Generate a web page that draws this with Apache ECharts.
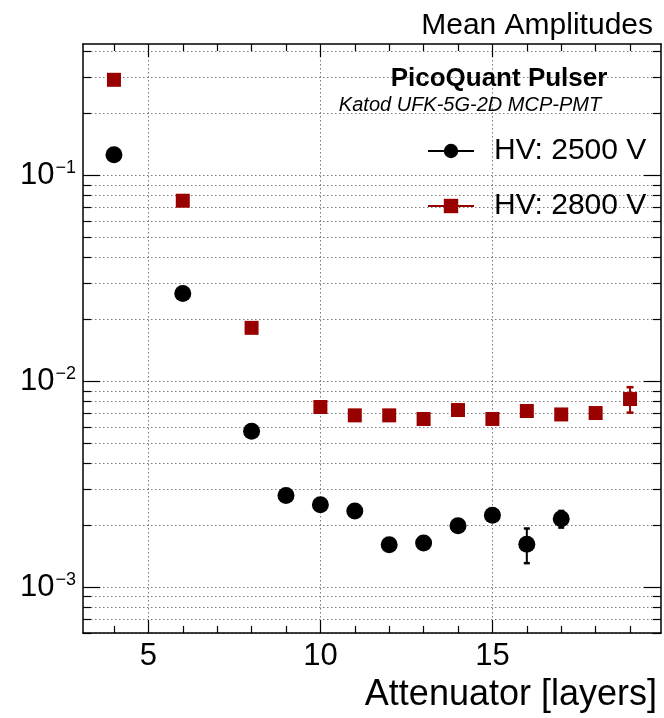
<!DOCTYPE html>
<html><head><meta charset="utf-8">
<script src="https://cdn.jsdelivr.net/npm/echarts@6/dist/echarts.min.js"></script>
<style>html,body{margin:0;padding:0;background:#fff}#c{width:664px;height:718px}</style>
</head><body><div id="c"></div>
<script>
// ---- data ----
const xHV2500 = [4, 6, 8, 9, 10, 11, 12, 13, 14, 15, 16, 17];
const yHV2500 = [0.126, 0.0267, 0.00572, 0.00279, 0.00252, 0.00235, 0.00161, 0.00164, 0.00199, 0.00224, 0.00162, 0.00215];
const eHV2500 = [0, 0, 0, 0, 0, 0, 0, 0, 0, 0, 0.00031, 0.0002];
const xHV2800 = [4, 6, 8, 10, 11, 12, 13, 14, 15, 16, 17, 18, 19];
const yHV2800 = [0.2915, 0.0754, 0.0182, 0.00751, 0.00684, 0.00684, 0.00657, 0.00726, 0.00657, 0.00718, 0.00691, 0.00702, 0.00821];
const eHV2800 = [0, 0, 0, 0, 0, 0, 0, 0, 0, 0, 0, 0, 0.00116];
const seriesNames = ['HV: 2500 V', 'HV: 2800 V'];
const xMajorTicks = [5, 10, 15];
const xMinorTicks = [4, 6, 7, 8, 9, 11, 12, 13, 14, 16, 17, 18, 19];
const yMajorTicks = [0.001, 0.01, 0.1];
const yMinorTicks = [0.0006, 0.0007, 0.0008, 0.0009,
  0.002, 0.003, 0.004, 0.005, 0.006, 0.007, 0.008, 0.009,
  0.02, 0.03, 0.04, 0.05, 0.06, 0.07, 0.08, 0.09,
  0.2, 0.3, 0.4];
const titleText = 'Mean Amplitudes';
const boxTitle = 'PicoQuant Pulser';
const boxSubtitle = 'Katod UFK-5G-2D MCP-PMT';
const xTitle = 'Attenuator [layers]';

// ---- styles ----
const FF = '"Liberation Sans", Arial, Helvetica, sans-serif';
const BLACK = '#000000';
const RED = '#990000';
const X_MIN = 3.1, X_MAX = 19.9, Y_MIN = 0.0006, Y_MAX = 0.435;
const gridLine = { show: true, lineStyle: { color: '#7a7a7a', width: 1, type: [1.5, 2.5] } };

function pts(xs, ys) { return xs.map((x, i) => [x, ys[i]]); }
function errs(xs, ys, es) { return xs.map((x, i) => [x, ys[i], es[i]]); }

function xAx(pos, major, withLine) {
  return {
    type: 'value', min: X_MIN, max: X_MAX, position: pos, gridIndex: 0,
    axisLine: { show: withLine, onZero: false, lineStyle: { color: BLACK, width: 1.5 } },
    axisTick: { show: true, inside: true, length: major ? 13 : 7,
      customValues: major ? xMajorTicks : xMinorTicks, lineStyle: { color: BLACK, width: 1.2 } },
    axisLabel: { show: false },
    splitLine: { show: false }
  };
}
function yAx(pos, major, withLine) {
  return {
    type: 'log', logBase: 10, min: Y_MIN, max: Y_MAX, position: pos, gridIndex: 0,
    axisLine: { show: withLine, onZero: false, lineStyle: { color: BLACK, width: 1.5 } },
    axisTick: { show: true, inside: true, length: major ? 17 : 8,
      customValues: major ? yMajorTicks : yMinorTicks, lineStyle: { color: BLACK, width: 1.2 } },
    axisLabel: { show: false },
    splitLine: { show: false }
  };
}

const xAxes = [xAx('bottom', true, true), xAx('bottom', false, false), xAx('top', true, true), xAx('top', false, false)];
xAxes[0].axisLabel = { show: true, customValues: xMajorTicks, fontSize: 31, color: BLACK, fontFamily: FF, margin: 8 };
xAxes[0].splitLine = gridLine;
xAxes[0].name = xTitle;
xAxes[0].nameLocation = 'end';
xAxes[0].nameGap = -4;
xAxes[0].nameTextStyle = { fontSize: 36, fontFamily: FF, color: BLACK, align: 'right', verticalAlign: 'top', padding: [44, 0, 0, 0] };

const yAxes = [yAx('left', true, true), yAx('left', false, false), yAx('right', true, true), yAx('right', false, false)];
yAxes[0].axisLabel = {
  show: true, customValues: yMajorTicks, margin: 7,
  formatter: v => '{a|10}{b|' + '\u2212' + Math.abs(Math.round(Math.log10(v))) + '}',
  rich: {
    a: { fontSize: 31, fontFamily: FF, color: BLACK },
    b: { fontSize: 18, fontFamily: FF, color: BLACK, padding: [0, 0, 14, 1] }
  }
};
yAxes[0].splitLine = gridLine;
yAxes[1].splitLine = gridLine;

function errRender(color, cap) {
  return function (params, api) {
    const x = api.value(0), y = api.value(1), e = api.value(2);
    if (!e) return null;
    const t = api.coord([x, y + e]);
    const b = api.coord([x, y - e]);
    const st = { stroke: color, lineWidth: 2 };
    return { type: 'group', children: [
      { type: 'line', shape: { x1: t[0], y1: t[1], x2: b[0], y2: b[1] }, style: st },
      { type: 'line', shape: { x1: t[0] - cap, y1: t[1], x2: t[0] + cap, y2: t[1] }, style: { stroke: color, lineWidth: 2.5 } },
      { type: 'line', shape: { x1: b[0] - cap, y1: b[1], x2: b[0] + cap, y2: b[1] }, style: { stroke: color, lineWidth: 2.5 } }
    ] };
  };
}

const option = {
  animation: false,
  backgroundColor: '#ffffff',
  grid: { left: 83, top: 44, width: 578, height: 589, containLabel: false },
  title: [
    { text: titleText, right: 6, top: 6, textStyle: { fontSize: 30, fontWeight: 'normal', fontFamily: FF, color: BLACK } },
    { text: boxTitle, left: 494, top: 61, textAlign: 'center', textStyle: { fontSize: 26, fontWeight: 'bold', fontFamily: FF, color: BLACK } },
    { text: boxSubtitle, left: 465, top: 90, textAlign: 'center', textStyle: { fontSize: 20, fontStyle: 'italic', fontWeight: 'normal', fontFamily: FF, color: BLACK } }
  ],
  legend: {
    orient: 'vertical', left: 427, top: 136, padding: 0,
    itemWidth: 46, itemHeight: 18, itemGap: 25,
    data: seriesNames,
    lineStyle: { opacity: 1, width: 2 },
    textStyle: { fontSize: 30, fontFamily: FF, color: BLACK, padding: [0, 0, 0, 15] }
  },
  xAxis: xAxes,
  yAxis: yAxes,
  series: [
    { type: 'custom', name: 'err2500', xAxisIndex: 0, yAxisIndex: 0, z: 1, silent: true,
      renderItem: errRender(BLACK, 3), encode: { x: 0, y: 1 }, data: errs(xHV2500, yHV2500, eHV2500) },
    { type: 'custom', name: 'err2800', xAxisIndex: 0, yAxisIndex: 0, z: 1, silent: true,
      renderItem: errRender(RED, 3.5), encode: { x: 0, y: 1 }, data: errs(xHV2800, yHV2800, eHV2800) },
    { type: 'line', name: seriesNames[0], xAxisIndex: 0, yAxisIndex: 0, z: 3,
      data: pts(xHV2500, yHV2500), symbol: 'circle', symbolSize: 17, showSymbol: true, showAllSymbol: true,
      itemStyle: { color: BLACK, borderWidth: 0 }, lineStyle: { opacity: 0, width: 2, color: BLACK },
      emphasis: { disabled: true } },
    { type: 'line', name: seriesNames[1], xAxisIndex: 0, yAxisIndex: 0, z: 3,
      data: pts(xHV2800, yHV2800), symbol: 'rect', symbolSize: 14, showSymbol: true, showAllSymbol: true,
      itemStyle: { color: RED, borderWidth: 0 }, lineStyle: { opacity: 0, width: 2, color: RED },
      emphasis: { disabled: true } }
  ]
};
const chart = echarts.init(document.getElementById('c'), null, { renderer: 'canvas' });
chart.setOption(option);
</script></body></html>
